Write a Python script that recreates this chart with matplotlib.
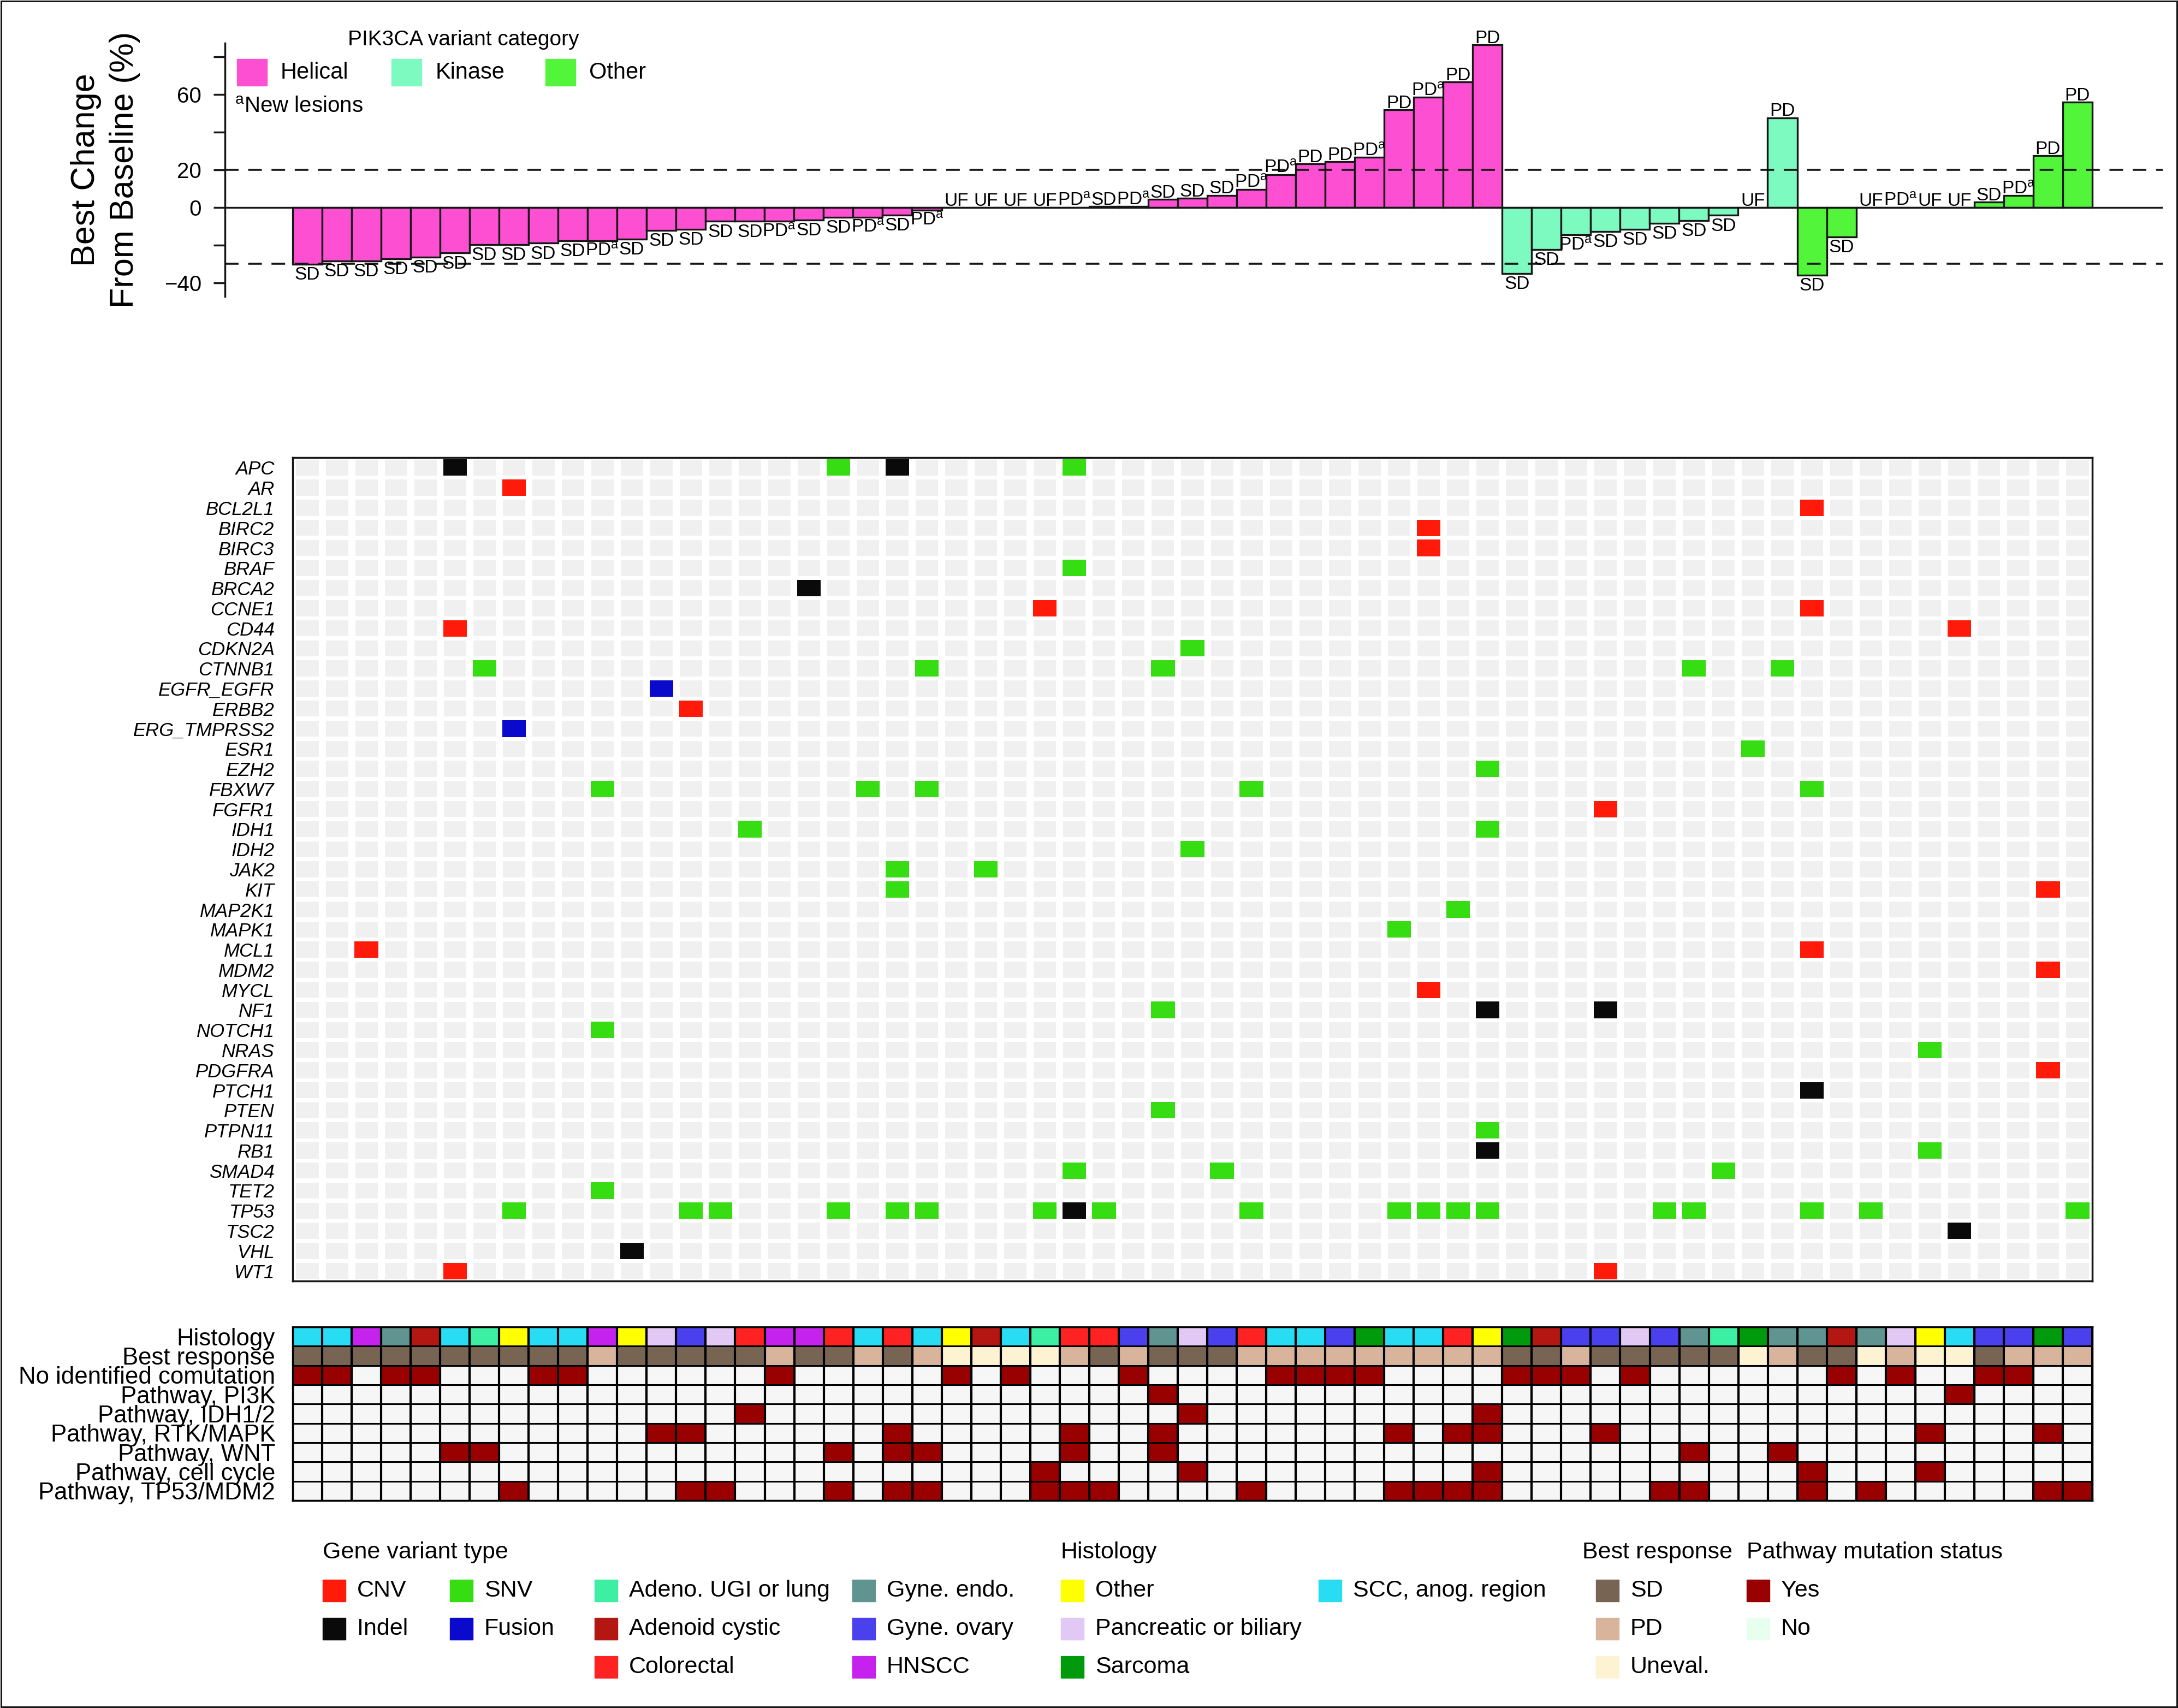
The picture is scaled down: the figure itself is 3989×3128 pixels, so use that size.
import numpy as np
import matplotlib.pyplot as plt
from matplotlib.patches import Rectangle
from matplotlib.colors import to_rgb

plt.rcParams['font.family'] = ['Liberation Sans', 'DejaVu Sans']
plt.rcParams['mathtext.default'] = 'regular'

W, H, DPI = 3989, 3128, 100
INK = '#161616'

# ---------------- waterfall: best change from baseline (%) ----------------
change_helical = [-30.2, -28.5, -28.5, -27.3, -26.3, -24.2, -19.8, -19.8, -19.0, -17.6, -17.6,
                  -16.8, -12.1, -11.6, -7.4, -7.4, -7.4, -6.6, -5.1, -5.1, -4.1, -1.4,
                  0, 0, 0, 0, 0, 0.6, 0.5, 4.3, 5.0, 6.5, 9.7, 17.4, 23.3, 24.4, 26.6,
                  51.9, 58.5, 66.8, 86.4]
resp_helical = ['SD', 'SD', 'SD', 'SD', 'SD', 'SD', 'SD', 'SD', 'SD', 'SD', 'PDa',
                'SD', 'SD', 'SD', 'SD', 'SD', 'PDa', 'SD', 'SD', 'PDa', 'SD', 'PDa',
                'UF', 'UF', 'UF', 'UF', 'PDa', 'SD', 'PDa', 'SD', 'SD', 'SD', 'PDa', 'PDa', 'PD', 'PD', 'PDa',
                'PD', 'PDa', 'PD', 'PD']
change_kinase = [-35.0, -22.3, -14.6, -12.8, -11.6, -8.4, -7.0, -4.2, 0, 47.7]
resp_kinase = ['SD', 'SD', 'PDa', 'SD', 'SD', 'SD', 'SD', 'SD', 'UF', 'PD']
change_other = [-35.9, -15.6, 0, 0, 0, 0, 2.8, 6.3, 27.6, 55.9]
resp_other = ['SD', 'SD', 'UF', 'PDa', 'UF', 'UF', 'SD', 'PDa', 'PD', 'PD']

category_names = ['Helical', 'Kinase', 'Other']
category_colors = {'Helical': '#fc4fd2', 'Kinase': '#7dfac0', 'Other': '#53f53b'}

change = change_helical + change_kinase + change_other
response = resp_helical + resp_kinase + resp_other
category = (['Helical'] * len(change_helical) + ['Kinase'] * len(change_kinase)
            + ['Other'] * len(change_other))
n = len(change)
cols = np.arange(n)

# ---------------- comutations (patient column, variant type) ----------------
genes = ['APC', 'AR', 'BCL2L1', 'BIRC2', 'BIRC3', 'BRAF', 'BRCA2', 'CCNE1', 'CD44', 'CDKN2A',
         'CTNNB1', 'EGFR_EGFR', 'ERBB2', 'ERG_TMPRSS2', 'ESR1', 'EZH2', 'FBXW7', 'FGFR1',
         'IDH1', 'IDH2', 'JAK2', 'KIT', 'MAP2K1', 'MAPK1', 'MCL1', 'MDM2', 'MYCL', 'NF1',
         'NOTCH1', 'NRAS', 'PDGFRA', 'PTCH1', 'PTEN', 'PTPN11', 'RB1', 'SMAD4', 'TET2',
         'TP53', 'TSC2', 'VHL', 'WT1']
gene_hits = {
    'APC': [(5, 'Indel'), (18, 'SNV'), (20, 'Indel'), (26, 'SNV')],
    'AR': [(7, 'CNV')],
    'BCL2L1': [(51, 'CNV')],
    'BIRC2': [(38, 'CNV')],
    'BIRC3': [(38, 'CNV')],
    'BRAF': [(26, 'SNV')],
    'BRCA2': [(17, 'Indel')],
    'CCNE1': [(25, 'CNV'), (51, 'CNV')],
    'CD44': [(5, 'CNV'), (56, 'CNV')],
    'CDKN2A': [(30, 'SNV')],
    'CTNNB1': [(6, 'SNV'), (21, 'SNV'), (29, 'SNV'), (47, 'SNV'), (50, 'SNV')],
    'EGFR_EGFR': [(12, 'Fusion')],
    'ERBB2': [(13, 'CNV')],
    'ERG_TMPRSS2': [(7, 'Fusion')],
    'ESR1': [(49, 'SNV')],
    'EZH2': [(40, 'SNV')],
    'FBXW7': [(10, 'SNV'), (19, 'SNV'), (21, 'SNV'), (32, 'SNV'), (51, 'SNV')],
    'FGFR1': [(44, 'CNV')],
    'IDH1': [(15, 'SNV'), (40, 'SNV')],
    'IDH2': [(30, 'SNV')],
    'JAK2': [(20, 'SNV'), (23, 'SNV')],
    'KIT': [(20, 'SNV'), (59, 'CNV')],
    'MAP2K1': [(39, 'SNV')],
    'MAPK1': [(37, 'SNV')],
    'MCL1': [(2, 'CNV'), (51, 'CNV')],
    'MDM2': [(59, 'CNV')],
    'MYCL': [(38, 'CNV')],
    'NF1': [(29, 'SNV'), (40, 'Indel'), (44, 'Indel')],
    'NOTCH1': [(10, 'SNV')],
    'NRAS': [(55, 'SNV')],
    'PDGFRA': [(59, 'CNV')],
    'PTCH1': [(51, 'Indel')],
    'PTEN': [(29, 'SNV')],
    'PTPN11': [(40, 'SNV')],
    'RB1': [(40, 'Indel'), (55, 'SNV')],
    'SMAD4': [(26, 'SNV'), (31, 'SNV'), (48, 'SNV')],
    'TET2': [(10, 'SNV')],
    'TP53': [(7, 'SNV'), (13, 'SNV'), (14, 'SNV'), (18, 'SNV'), (20, 'SNV'), (21, 'SNV'),
             (25, 'SNV'), (26, 'Indel'), (27, 'SNV'), (32, 'SNV'), (37, 'SNV'), (38, 'SNV'),
             (39, 'SNV'), (40, 'SNV'), (46, 'SNV'), (47, 'SNV'), (51, 'SNV'), (53, 'SNV'),
             (60, 'SNV')],
    'TSC2': [(56, 'Indel')],
    'VHL': [(11, 'Indel')],
    'WT1': [(5, 'CNV'), (44, 'CNV')],
}
variant_names = ['CNV', 'SNV', 'Indel', 'Fusion']
variant_colors = {'CNV': '#ff1a0a', 'SNV': '#36dd12', 'Indel': '#0a0a0a', 'Fusion': '#0a0acc'}

# ---------------- annotation tracks ----------------
histology = ['SCC', 'SCC', 'HNSCC', 'Gyne endo', 'Adenoid', 'SCC', 'Adeno', 'Other', 'SCC', 'SCC',
             'HNSCC', 'Other', 'Pancreatic', 'Gyne ovary', 'Pancreatic', 'Colorectal', 'HNSCC', 'HNSCC', 'Colorectal', 'SCC',
             'Colorectal', 'SCC', 'Other', 'Adenoid', 'SCC', 'Adeno', 'Colorectal', 'Colorectal', 'Gyne ovary', 'Gyne endo',
             'Pancreatic', 'Gyne ovary', 'Colorectal', 'SCC', 'SCC', 'Gyne ovary', 'Sarcoma', 'SCC', 'SCC', 'Colorectal',
             'Other', 'Sarcoma', 'Adenoid', 'Gyne ovary', 'Gyne ovary', 'Pancreatic', 'Gyne ovary', 'Gyne endo', 'Adeno', 'Sarcoma',
             'Gyne endo', 'Gyne endo', 'Adenoid', 'Gyne endo', 'Pancreatic', 'Other', 'SCC', 'Gyne ovary', 'Gyne ovary', 'Sarcoma',
             'Gyne ovary']
histology_labels = {'Adeno': 'Adeno. UGI or lung', 'Adenoid': 'Adenoid cystic', 'Colorectal': 'Colorectal',
                    'Gyne endo': 'Gyne. endo.', 'Gyne ovary': 'Gyne. ovary', 'HNSCC': 'HNSCC',
                    'Other': 'Other', 'Pancreatic': 'Pancreatic or biliary', 'Sarcoma': 'Sarcoma',
                    'SCC': 'SCC, anog. region'}
histology_colors = {'Adeno': '#3cefa2', 'Adenoid': '#b41612', 'Colorectal': '#ff2222',
                    'Gyne endo': '#5f9490', 'Gyne ovary': '#4b40ee', 'HNSCC': '#c622ee',
                    'Other': '#ffff00', 'Pancreatic': '#e2c8f4', 'Sarcoma': '#009a0c',
                    'SCC': '#28dcf4'}
response_labels = {'SD': 'SD', 'PD': 'PD', 'PDa': 'PD', 'UF': 'Uneval.'}
response_colors = {'SD': '#786452', 'PD': '#d9b49c', 'Uneval.': '#fdf2d2'}
pathway_colors = {'Yes': '#990000', 'No': '#f5f6f5'}

track_names = ['Histology', 'Best response', 'No identified comutation', 'Pathway, PI3K',
               'Pathway, IDH1/2', 'Pathway, RTK/MAPK', 'Pathway, WNT', 'Pathway, cell cycle',
               'Pathway, TP53/MDM2']
no_comutation = [0, 1, 3, 4, 8, 9, 16, 22, 24, 28, 33, 34, 35, 36, 41, 42, 43, 45, 52, 54, 57, 58]
path_pi3k = [29, 56]
path_idh = [15, 30, 40]
path_rtk_mapk = [12, 13, 20, 26, 29, 37, 39, 40, 44, 55, 59]
path_wnt = [5, 6, 18, 20, 21, 26, 29, 47, 50]
path_cell_cycle = [25, 30, 40, 51, 55]
path_tp53_mdm2 = [7, 13, 14, 18, 20, 21, 25, 26, 27, 32, 37, 38, 39, 40, 46, 47, 51, 53, 59, 60]
yes_rows = [no_comutation, path_pi3k, path_idh, path_rtk_mapk, path_wnt, path_cell_cycle,
            path_tp53_mdm2]

# =====================================================================
fig = plt.figure(figsize=(W / DPI, H / DPI), dpi=DPI)


def px_axes(x0, y0, x1, y1):
    return fig.add_axes([x0 / W, 1 - y1 / H, (x1 - x0) / W, (y1 - y0) / H])


# ---- waterfall ----
ax = px_axes(412, 79, 3961, 543)
ax.bar(cols, change, width=1.0, color=[category_colors[c] for c in category],
       edgecolor=INK, linewidth=2.4, zorder=3)
ax.axhline(0, color=INK, lw=2.4, zorder=4)
for level in (20, -30):
    ax.axhline(level, color=INK, lw=2.6, dashes=(6.9, 4.9), zorder=5)
for xi, v, r in zip(cols, change, response):
    s = r'PD$^{a}$' if r == 'PDa' else r
    if v < 0:
        ax.text(xi, v - 1.2, s, ha='center', va='top', fontsize=24, zorder=6)
    else:
        ax.text(xi, v + 0.9, s, ha='center', va='baseline', fontsize=24, zorder=6)
ax.set_xlim(-2.79, 62.89)
ax.set_ylim(-47.3, 87.3)
for side in ('top', 'right', 'bottom'):
    ax.spines[side].set_visible(False)
ax.spines['left'].set_linewidth(2.5)
ax.spines['left'].set_color(INK)
ax.set_xticks([])
ax.set_yticks([-40, -20, 0, 20, 40, 60, 80])
ax.set_yticklabels(['\u221240', '', '0', '20', '', '60', ''])
ax.tick_params(axis='y', length=15, width=2.5, color=INK, labelsize=29, pad=16)
ax.patch.set_alpha(0)

fig.text(193 / W, 1 - 311 / H, 'Best Change\nFrom Baseline (%)', rotation=90,
         ha='center', va='center', multialignment='center', fontsize=44, linespacing=1.3)

# ---- comutation grid ----
gx = px_axes(536, 838, 3832, 2346)
for r in range(len(genes)):
    gx.bar(cols, 0.8, bottom=r - 0.4, width=0.76, color='#f0f0f0', linewidth=0, zorder=1)
for r, g in enumerate(genes):
    for c, t in gene_hits.get(g, []):
        gx.bar(c, 0.82, bottom=r - 0.41, width=0.8, color=variant_colors[t], linewidth=0, zorder=3)
gx.set_xlim(-0.5, n - 0.5)
gx.set_ylim(len(genes) - 0.5, -0.5)
gx.set_xticks([])
gx.set_yticks(range(len(genes)))
gx.set_yticklabels(genes, fontstyle='italic', fontsize=25)
gx.tick_params(axis='y', length=0, pad=24)
for sp in gx.spines.values():
    sp.set_linewidth(2.5)
    sp.set_color(INK)

# ---- annotation tracks ----
tx = px_axes(536, 2430, 3832, 2748)
rgb = np.ones((len(track_names), n, 3))
rgb[0] = [to_rgb(histology_colors[h]) for h in histology]
rgb[1] = [to_rgb(response_colors[response_labels[r]]) for r in response]
for k, yes_cols in enumerate(yes_rows):
    rgb[k + 2] = [to_rgb(pathway_colors['Yes' if c in yes_cols else 'No']) for c in cols]
tx.imshow(rgb, extent=(-0.5, n - 0.5, len(track_names) - 0.5, -0.5), aspect='auto',
          interpolation='nearest')
for xb in np.arange(-0.5, n):
    tx.axvline(xb, color='black', lw=3)
for yb in np.arange(-0.5, len(track_names)):
    tx.axhline(yb, color='black', lw=2.2)
tx.set_xlim(-0.5, n - 0.5)
tx.set_ylim(len(track_names) - 0.5, -0.5)
tx.set_xticks([])
tx.set_yticks(range(len(track_names)))
tx.set_yticklabels(track_names, fontsize=31.5)
tx.tick_params(axis='y', length=0, pad=23)
for sp in tx.spines.values():
    sp.set_linewidth(2.5)

# ---- legends and frame (pixel coordinates) ----
ov = fig.add_axes([0, 0, 1, 1])
ov.set_xlim(0, W)
ov.set_ylim(H, 0)
ov.axis('off')

# PIK3CA variant category legend
ov.text(637, 73, 'PIK3CA variant category', fontsize=28, va='center', ha='left')
for name, px, tx_ in zip(category_names, [434, 717, 999], [514, 798, 1079]):
    ov.add_patch(Rectangle((px, 108), 55, 49, color=category_colors[name]))
    ov.text(tx_, 133, name, fontsize=30, va='center', ha='left')
ov.text(430, 206, r'$^{a}$New lesions', fontsize=29, va='baseline', ha='left')

row_y = [2913, 2983, 3053]
title_y = 2843
legend_titles = [('Gene variant type', 591), ('Histology', 1943), ('Best response', 2898),
                 ('Pathway mutation status', 3199)]
for t, x0 in legend_titles:
    ov.text(x0, title_y, t, fontsize=31, va='center', ha='left')

legend_items = [
    (591, 0, 'CNV', variant_colors['CNV']), (824, 0, 'SNV', variant_colors['SNV']),
    (591, 1, 'Indel', variant_colors['Indel']), (824, 1, 'Fusion', variant_colors['Fusion']),
    (1089, 0, 'Adeno', None), (1089, 1, 'Adenoid', None), (1089, 2, 'Colorectal', None),
    (1561, 0, 'Gyne endo', None), (1561, 1, 'Gyne ovary', None), (1561, 2, 'HNSCC', None),
    (1943, 0, 'Other', None), (1943, 1, 'Pancreatic', None), (1943, 2, 'Sarcoma', None),
    (2415, 0, 'SCC', None),
    (2923, 0, 'SD', response_colors['SD']), (2923, 1, 'PD', response_colors['PD']),
    (2923, 2, 'Uneval.', response_colors['Uneval.']),
    (3199, 0, 'Yes', pathway_colors['Yes']), (3199, 1, 'No', '#e8fff0'),
]
for x0, row, key, colr in legend_items:
    label = key
    if colr is None:
        colr = histology_colors[key]
        label = histology_labels[key]
    yc = row_y[row]
    ov.add_patch(Rectangle((x0, yc - 20), 42, 40, color=colr))
    ov.text(x0 + 63, yc, label, fontsize=31, va='center', ha='left')

ov.add_patch(Rectangle((2, 2), W - 4, H - 4, fill=False, edgecolor=INK, lw=2.2))

fig.savefig('out.png', dpi=DPI)
